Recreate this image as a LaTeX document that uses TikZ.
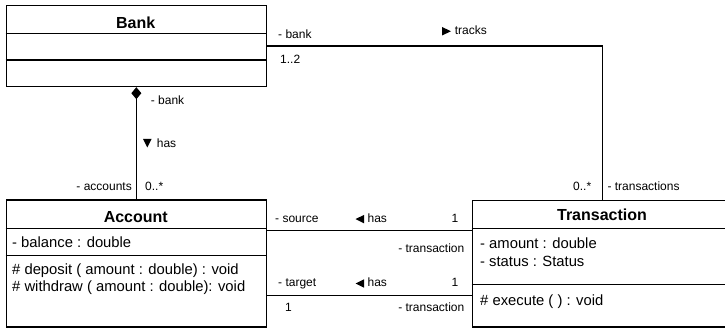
\documentclass[tikz,border=0pt]{standalone}
\usepackage{fontspec}
\setmainfont{Liberation Sans}
\usetikzlibrary{arrows.meta}
\begin{document}
\begin{tikzpicture}[x=1pt,y=-1pt,
  box/.style={draw, line width=1.2pt, inner sep=0pt, anchor=north west},
  divider/.style={line width=1.2pt},
  classtitle/.style={font=\fontsize{16}{19}\selectfont\bfseries, anchor=base, inner sep=0pt},
  member/.style={font=\fontsize{14.8}{17.5}\selectfont, anchor=base west, inner sep=0pt},
  lbl/.style={font=\fontsize{12}{14}\selectfont, anchor=base west, inner sep=0pt},
  lblr/.style={lbl, anchor=base east},
  conn/.style={line width=1.2pt},
  dirmark/.style={fill=black}]
\useasboundingbox (0,0) rectangle (725,328);
\clip (0,0) rectangle (725,328);

% ---- classes ----
\node[box, minimum width=260.5pt, minimum height=81pt] (bank) at (5.5,5) {};
\draw[divider] (5.5,33.3) -- (266,33.3);
\draw[divider] (5.5,60) -- (266,60);
\node[classtitle] (bankname) at (135.75,28.3) {Bank};

\node[box, minimum width=260.5pt, minimum height=127pt] (account) at (5.5,199.5) {};
\draw[divider] (5.5,228.3) -- (266,228.3);
\draw[divider] (5.5,255.7) -- (266,255.7);
\node[classtitle] (accountname) at (135.75,222.3) {Account};
\node[member] (balance) at (12,247.7) {- balance : double};
\node[member] (deposit) at (12,274.3) {\# deposit ( amount : double) : void};
\node[member] (withdraw) at (12,291.4) {\# withdraw ( amount : double): void};

\node[box, minimum width=261pt, minimum height=126.5pt] (trans) at (471.5,200) {};
\draw[divider] (471.5,228.5) -- (732.5,228.5);
\draw[divider] (471.5,284.5) -- (732.5,284.5);
\node[classtitle] (transname) at (602,221) {Transaction};
\node[member] (amount) at (480,249) {- amount : double};
\node[member] (status) at (480,266.7) {- status : Status};
\node[member] (execute) at (480,305.7) {\# execute ( ) : void};

% ---- Bank <>-- Account ----
\draw[conn, {Diamond[length=12pt,width=10pt]}-] (bank.south) -- (account.north);
\node[lbl] (lbank2) at (150.7,105) {- bank};
\fill[dirmark] (143,139) -- (151.5,139) -- (147.25,147.5) -- cycle;
\node[lbl] (lhas1) at (156.7,147.6) {has};
\node[lblr] (laccounts) at (132,191) {- accounts};
\node[lbl] (lmany1) at (145,191) {0..*};

% ---- Bank -- Transaction (tracks) ----
\draw[conn] (bank.east) -| (trans.north);
\node[lbl] (lbank1) at (278,39) {- bank};
\node[lbl] (lmult) at (280,64) {1..2};
\fill[dirmark] (442,27) -- (442,35.5) -- (451,31.25) -- cycle;
\node[lbl] (ltracks) at (454.7,34.3) {tracks};
\node[lbl] (lmany2) at (573,190.7) {0..*};
\node[lbl] (ltransactions) at (607.3,190.7) {- transactions};

% ---- Account -- Transaction (source / target) ----
\coordinate (ysource) at (0,230.7);
\coordinate (ytarget) at (0,295.3);
\draw[conn] (account.east |- ysource) -- (trans.west |- ysource);
\draw[conn] (account.east |- ytarget) -- (trans.west |- ytarget);

\node[lbl] (lsource) at (275,222.3) {- source};
\fill[dirmark] (364,214.9) -- (364,223.3) -- (355.5,219.1) -- cycle;
\node[lbl] (lhas2) at (367.4,222.3) {has};
\node[lbl] (lone1) at (451.5,222.3) {1};
\node[lblr] (ltrans1) at (464.5,252.7) {- transaction};

\node[lbl] (ltarget) at (278,286.7) {- target};
\fill[dirmark] (364,279.3) -- (364,287.7) -- (355.5,283.5) -- cycle;
\node[lbl] (lhas3) at (367.4,286.7) {has};
\node[lbl] (lone2) at (451.5,286.7) {1};
\node[lbl] (lone3) at (285,311.7) {1};
\node[lblr] (ltrans2) at (464.5,311.7) {- transaction};
\end{tikzpicture}
\end{document}
